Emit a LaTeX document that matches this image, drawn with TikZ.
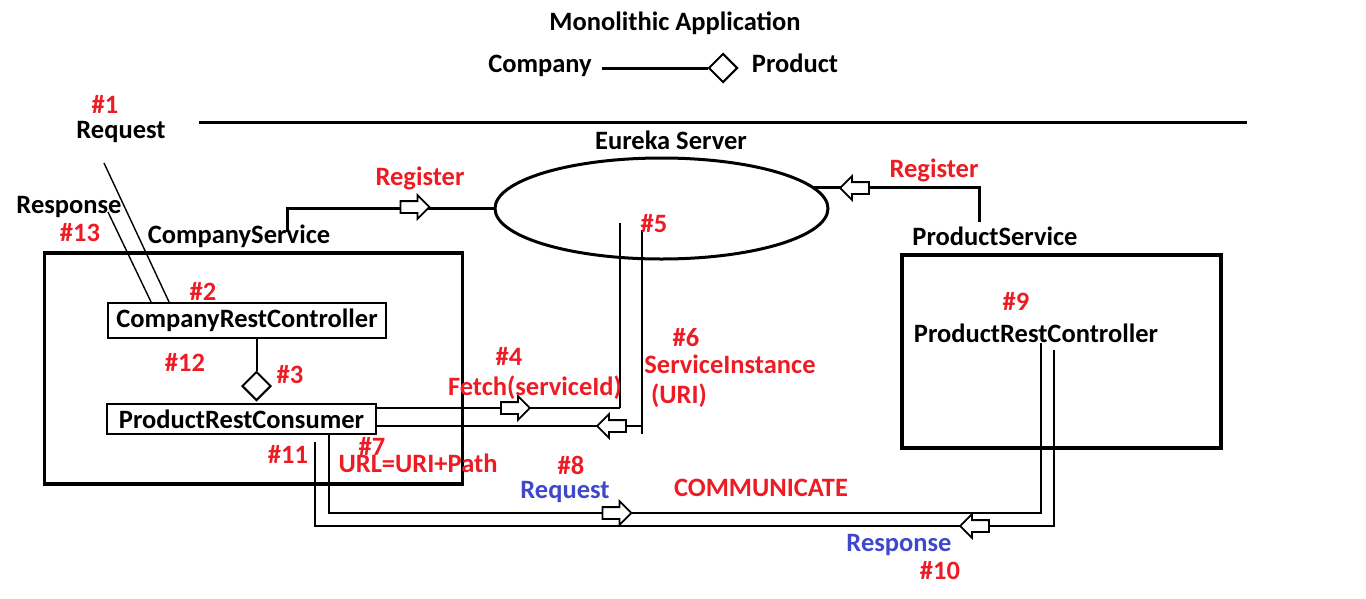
\documentclass[tikz,border=0pt]{standalone}
\usepackage{fontspec}
\setmainfont{Carlito}
\usetikzlibrary{positioning, calc, shapes.geometric, shapes.arrows}
\definecolor{hashred}{RGB}{237,28,36}
\definecolor{msgblue}{RGB}{63,72,204}
\tikzset{lbl/.style={font=\fontsize{26.5}{30}\selectfont\bfseries, inner sep=0, anchor=base}}
\tikzset{hashlbl/.style={lbl, text=hashred}}
\tikzset{msglbl/.style={lbl, text=msgblue}}
\tikzset{thickline/.style={draw, line width=3pt}}
\tikzset{midline/.style={draw, line width=2pt}}
\tikzset{thinline/.style={draw, line width=1.4pt}}
\tikzset{svcbox/.style={draw, line width=3.2pt, inner sep=0}}
\tikzset{clsbox/.style={draw, line width=1.8pt, inner sep=0, font=\fontsize{26.5}{30}\selectfont\bfseries}}
\tikzset{hollowarr/.style={single arrow, draw, fill=white, line width=1.8pt, inner sep=5pt, outer sep=0,
		minimum height=29pt, single arrow head extend=6pt}}
\tikzset{aggr/.style={diamond, draw, fill=white, line width=2pt, inner sep=0, minimum width=29pt, minimum height=29pt}}

\begin{document}
\begin{tikzpicture}[x=1pt, y=-1pt]
	\useasboundingbox (0,0) rectangle (1366,598);
	% legend
	\node[lbl] (title) at (675,30) {Monolithic Application};
	\node[lbl] (legCompany) at (540,72) {Company};
	\node[aggr] (legDiamond) at (723,68) {};
	\node[lbl] (legProduct) at (795,72) {Product};
	\draw[thickline] ([xshift=10pt]legCompany.east |- legDiamond.west) -- (legDiamond.west);
	\coordinate (sepL) at (199,122);
	\coordinate (sepR) at (1247,122);
	\draw[thickline] (sepL) -- (sepR);
	%
	% eureka server
	\node[lbl] (eurekaLbl) at (671,149) {Eureka Server};
	\node[ellipse, draw, line width=3pt, minimum width=333pt, minimum height=101pt] (eureka) at (661.5,208.5) {};
	%
	% company service
	\node[lbl] (csLbl) at (239,243) {CompanyService};
	\node[svcbox, minimum width=418pt, minimum height=231pt] (companySvc) at (253.5,368.5) {};
	\node[clsbox, minimum width=278pt, minimum height=35pt] (crc) at (247,320.5) {CompanyRestController};
	\node[aggr] (agg) at (256.5,386) {};
	\node[clsbox, minimum width=269pt, minimum height=30pt] (consumer) at (241.5,419) {ProductRestConsumer};
	\draw[midline] (agg.north |- crc.south) -- (agg.north);
	%
	% product service
	\node[lbl] (psLbl) at (995,245) {ProductService};
	\node[svcbox, minimum width=319pt, minimum height=193pt] (productSvc) at (1061.5,351.5) {};
	\node[lbl] (prc) at (1036,342) {ProductRestController};
	%
	% register
	\coordinate (csTop) at (287,232);
	\coordinate (psTop) at (979,222);
	\draw[thickline] (csTop) |- (eureka.west);
	\draw[thickline] (psTop) |- (eureka.8);
	\node[hollowarr] (regArrL) at (412,207) {};
	\node[hollowarr, shape border rotate=180] (regArrR) at (857.5,188) {};
	\node[hashlbl] (regL) at (420,185) {Register};
	\node[hashlbl] (regR) at (934,177) {Register};
	%
	% client request / response
	\coordinate (reqIn) at (104,163);
	\coordinate (respIn) at (108,212);
	\draw[thinline] (reqIn) -- ([xshift=62pt]crc.north west);
	\draw[thinline] (respIn) -- ([xshift=44pt]crc.north west);
	\node[hashlbl] (n1) at (105,113) {\#1};
	\node[lbl] (reqLbl) at (121,138) {Request};
	\node[lbl] (respLbl) at (69,213) {Response};
	\node[hashlbl] (n13) at (80,241) {\#13};
	\node[hashlbl] (n2) at (203,300) {\#2};
	\node[hashlbl] (n12) at (185,371) {\#12};
	\node[hashlbl] (n3) at (290,383) {\#3};
	%
	% fetch from eureka
	\coordinate (fetchTop) at (620,223);
	\coordinate (fetchCorner) at (620,408);
	\coordinate (retTop) at (642,230);
	\coordinate (retBot) at (642,434);
	\coordinate (retCorner) at (642,426);
	\draw[thinline] (fetchTop) -- (fetchCorner);
	\draw[midline] (fetchCorner) -- (consumer.east |- fetchCorner);
	\draw[thinline] (retTop) -- (retBot);
	\draw[midline] (retCorner) -- (consumer.east |- retCorner);
	\node[hollowarr] (fetchArr) at (512.5,408) {};
	\node[hollowarr, shape border rotate=180] (retArr) at (614.5,426) {};
	\node[hashlbl] (n5) at (654,232) {\#5};
	\node[hashlbl] (n4) at (509,365) {\#4};
	\node[hashlbl] (fetchLbl) at (535,395) {Fetch(serviceId)};
	\node[hashlbl] (n6) at (686,346) {\#6};
	\node[hashlbl] (siLbl) at (730,373) {ServiceInstance};
	\node[hashlbl] (uriLbl) at (679,403) {(URI)};
	\node[hashlbl] (n7) at (372,455) {\#7};
	\node[hashlbl] (urlLbl) at (418,472) {URL=URI+Path};
	\node[hashlbl] (n11) at (288,463) {\#11};
	%
	% communicate
	\coordinate (reqCornerL) at (329,513);
	\coordinate (reqCornerR) at (1041,513);
	\coordinate (prcIn) at (1041,343);
	\coordinate (respStart) at (315,442);
	\coordinate (respCornerL) at (315,526);
	\coordinate (respCornerR) at (1054,526);
	\coordinate (prcOut) at (1054,350);
	\draw[thinline] (consumer.south -| reqCornerL) -- (reqCornerL) -- (reqCornerR) -- (prcIn);
	\draw[thinline] (respStart) -- (respCornerL) -- (respCornerR) -- (prcOut);
	\node[hollowarr] (reqArr) at (614,513) {};
	\node[hollowarr, shape border rotate=180] (respArr) at (977.5,526) {};
	\node[hashlbl] (n8) at (571,474) {\#8};
	\node[msglbl] (reqMsg) at (565,498) {Request};
	\node[hashlbl] (commLbl) at (761,496) {COMMUNICATE};
	\node[msglbl] (respMsg) at (899,551) {Response};
	\node[hashlbl] (n10) at (940,579) {\#10};
	\node[hashlbl] (n9) at (1016,310) {\#9};
\end{tikzpicture}
\end{document}
